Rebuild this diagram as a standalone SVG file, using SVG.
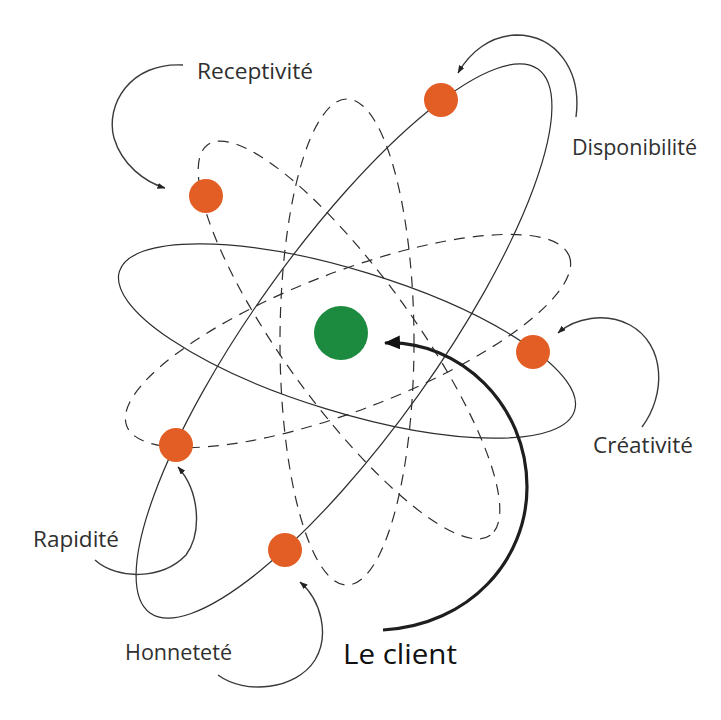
<svg xmlns="http://www.w3.org/2000/svg" width="721" height="720" viewBox="0 0 721 720">
<defs>
<style>
.orbit{fill:none;stroke:#2e2e2e;stroke-width:1.2}
.dash{stroke-dasharray:11 8}
.conn{fill:none;stroke:#3a3a3a;stroke-width:1.4}
.big{fill:none;stroke:#1e1e1e;stroke-width:3.2}
.el{fill:#e35e25}
.core{fill:#1c8a3f}
.lbl{font-family:"Open Sans","Noto Sans","Liberation Sans",sans-serif;font-size:21px;fill:#2f2f2f}
.main{font-family:"Open Sans","Noto Sans","Liberation Sans",sans-serif;font-size:28px;fill:#111}
</style>
<marker id="ah" viewBox="0 0 8 6" refX="7.5" refY="3" markerWidth="8" markerHeight="6" markerUnits="userSpaceOnUse" orient="auto">
<path d="M0,0 L8,3 L0,6 z" fill="#222"/>
</marker>
<marker id="ahBig" viewBox="0 0 16 14" refX="15" refY="7" markerWidth="16" markerHeight="14" markerUnits="userSpaceOnUse" orient="auto">
<path d="M0,0 L16,7 L0,14 z" fill="#111"/>
</marker>
</defs>
<rect width="721" height="720" fill="#fff"/>
<g id="orbits">
<ellipse class="orbit dash" cx="348" cy="341" rx="237" ry="69" transform="rotate(-21 348 341)"/>
<ellipse class="orbit dash" cx="349" cy="340" rx="241" ry="65" transform="rotate(54.1 349 340)"/>
<ellipse class="orbit dash" cx="347" cy="342" rx="67" ry="243"/>
<ellipse class="orbit" cx="347" cy="341" rx="238" ry="71" transform="rotate(17 347 341)"/>
<ellipse class="orbit" cx="344" cy="341" rx="334" ry="92" transform="rotate(-54.5 344 341)"/>
</g>
<g id="connectors">
<path class="conn" d="M183,65 C130,62 105,105 114,138 C122,165 145,182 165,188" marker-end="url(#ah)"/>
<path class="conn" d="M576,117 C582,70 556,35 516,35 C490,36 470,52 458,73" marker-end="url(#ah)"/>
<path class="conn" d="M642,427 C666,395 666,345 630,325 C605,312 575,318 558,333" marker-end="url(#ah)"/>
<path class="conn" d="M95,560 C117,580 162,580 186,555 C202,533 200,492 178,467" marker-end="url(#ah)"/>
<path class="conn" d="M218,675 C245,695 296,690 315,660 C330,635 321,600 300,582" marker-end="url(#ah)"/>
<path class="big" d="M383,630 C470,625 527,560 527,487 C527,405 460,340 385,343" marker-end="url(#ahBig)"/>
</g>
<g id="client"><circle class="core" cx="341" cy="333" r="27"/></g>
<g id="n-receptivite"><circle class="el" cx="206" cy="196" r="17"/><text class="lbl" x="197" y="79" textLength="116" lengthAdjust="spacingAndGlyphs">Receptivité</text></g>
<g id="n-disponibilite"><circle class="el" cx="441" cy="100" r="17"/><text class="lbl" x="572" y="155" textLength="125" lengthAdjust="spacingAndGlyphs">Disponibilité</text></g>
<g id="n-creativite"><circle class="el" cx="533" cy="352" r="17"/><text class="lbl" x="593" y="453" textLength="100" lengthAdjust="spacingAndGlyphs">Créativité</text></g>
<g id="n-rapidite"><circle class="el" cx="176" cy="445" r="17"/><text class="lbl" x="33" y="547" textLength="86" lengthAdjust="spacingAndGlyphs">Rapidité</text></g>
<g id="n-honnetete"><circle class="el" cx="285" cy="550" r="17"/><text class="lbl" x="125" y="660" textLength="107" lengthAdjust="spacingAndGlyphs">Honneteté</text></g>
<g id="label-client"><text class="main" x="343" y="664" textLength="114" lengthAdjust="spacingAndGlyphs">Le client</text></g>
</svg>
